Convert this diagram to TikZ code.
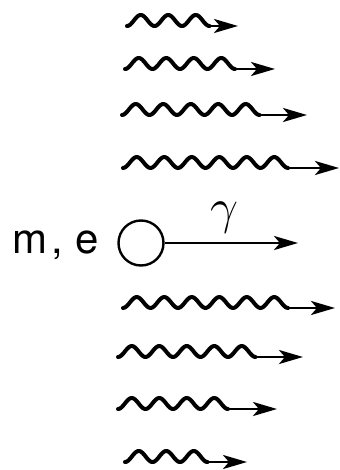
\documentclass[tikz,border=0pt]{standalone}
\usepackage{fontspec}
\newfontfamily\labelfont{TeX Gyre Heros}
\usetikzlibrary{arrows.meta,positioning}
\tikzset{
  wave/.style={line width=2pt, line cap=round, line join=round},
  ray/.style={line width=1.4pt, -{Stealth[length=12pt,width=7pt,inset=3pt]}},
  particle/.style={circle, draw, line width=1.2pt, minimum size=22.5pt, inner sep=0pt}
}
\begin{document}
\begin{tikzpicture}[x=0.5pt,y=-0.5pt]
  \useasboundingbox (0,0) rectangle (340,470);
  % particle with mass and charge
  \node[particle] (part) at (141,243) {};
  \node[anchor=base east, inner sep=0pt, font={\labelfont\fontsize{21pt}{21pt}\selectfont}] (me) at (99,253) {m\kern2pt, e};
  \coordinate (gtip) at (298,243);
  \draw[ray] (part.east) -- (gtip) node[pos=0.45, above=1pt, font=\fontsize{24pt}{24pt}\selectfont] (gam) {$\gamma$};
  % incoming waves
  \foreach \xs/\yb/\n/\xt [count=\i] in {127/26/3/238, 125/69/4/275, 122/115/5/307, 123/168/6/339,
                                         123/308/6/335, 118/357/5/303, 118/409/4/277, 125/462/3/247}{
    \pgfmathsetmacro\len{\n*27.5}
    \draw[wave] plot[domain=0:\len, samples=90, smooth] ({\xs+\x},{\yb-5.5+5.5*cos(\x/27.5*360)});
    \coordinate (w\i) at (\xs+\len,\yb);
    \coordinate (t\i) at (\xt,\yb);
    \draw[ray] (w\i) -- (t\i);
  }
\end{tikzpicture}
\end{document}
